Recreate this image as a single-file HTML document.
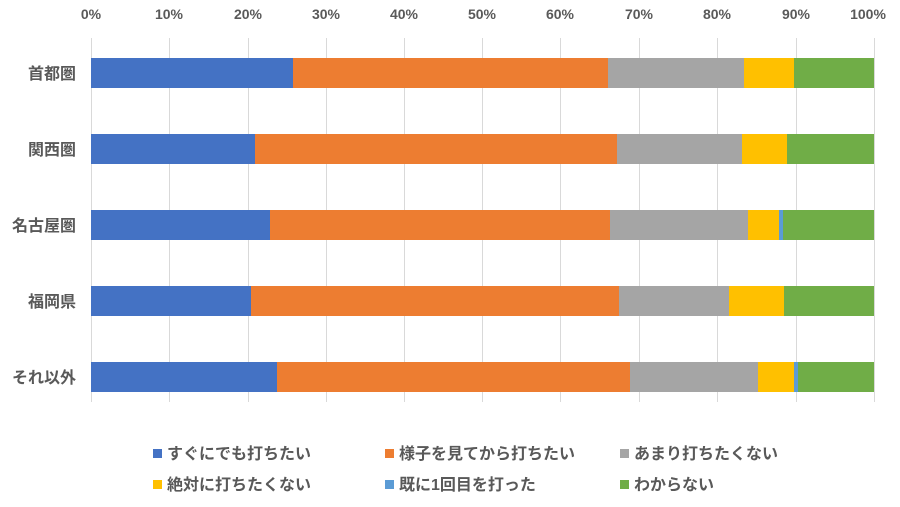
<!DOCTYPE html>
<html><head><meta charset="utf-8"><style>
body{margin:0;background:#fff;}
svg text{font-family:"Liberation Sans","Noto Sans CJK JP",sans-serif;fill:#595959;}
</style></head><body>
<svg width="900" height="502" xmlns="http://www.w3.org/2000/svg">
<g stroke="#d9d9d9" stroke-width="1">
<line x1="91.5" y1="38" x2="91.5" y2="402"/><line x1="169.5" y1="38" x2="169.5" y2="402"/><line x1="248.5" y1="38" x2="248.5" y2="402"/><line x1="326.5" y1="38" x2="326.5" y2="402"/><line x1="404.5" y1="38" x2="404.5" y2="402"/><line x1="482.5" y1="38" x2="482.5" y2="402"/><line x1="560.5" y1="38" x2="560.5" y2="402"/><line x1="639.5" y1="38" x2="639.5" y2="402"/><line x1="717.5" y1="38" x2="717.5" y2="402"/><line x1="796.5" y1="38" x2="796.5" y2="402"/><line x1="874.5" y1="38" x2="874.5" y2="402"/>
</g>
<g font-size="14" text-anchor="middle" font-weight="bold">
<text x="91" y="19">0%</text><text x="169" y="19">10%</text><text x="248" y="19">20%</text><text x="326" y="19">30%</text><text x="404" y="19">40%</text><text x="482" y="19">50%</text><text x="560" y="19">60%</text><text x="639" y="19">70%</text><text x="717" y="19">80%</text><text x="796" y="19">90%</text><text x="868" y="19">100%</text>
</g>
<g>
<rect x="91" y="58" width="202" height="30" fill="#4472c4"/><rect x="293" y="58" width="315" height="30" fill="#ed7d31"/><rect x="608" y="58" width="136" height="30" fill="#a5a5a5"/><rect x="744" y="58" width="50" height="30" fill="#ffc000"/><rect x="794" y="58" width="80" height="30" fill="#70ad47"/>
<rect x="91" y="134" width="164" height="30" fill="#4472c4"/><rect x="255" y="134" width="362" height="30" fill="#ed7d31"/><rect x="617" y="134" width="125" height="30" fill="#a5a5a5"/><rect x="742" y="134" width="45" height="30" fill="#ffc000"/><rect x="787" y="134" width="87" height="30" fill="#70ad47"/>
<rect x="91" y="210" width="179" height="30" fill="#4472c4"/><rect x="270" y="210" width="340" height="30" fill="#ed7d31"/><rect x="610" y="210" width="138" height="30" fill="#a5a5a5"/><rect x="748" y="210" width="31" height="30" fill="#ffc000"/><rect x="779" y="210" width="4" height="30" fill="#5b9bd5"/><rect x="783" y="210" width="91" height="30" fill="#70ad47"/>
<rect x="91" y="286" width="160" height="30" fill="#4472c4"/><rect x="251" y="286" width="368" height="30" fill="#ed7d31"/><rect x="619" y="286" width="110" height="30" fill="#a5a5a5"/><rect x="729" y="286" width="55" height="30" fill="#ffc000"/><rect x="784" y="286" width="90" height="30" fill="#70ad47"/>
<rect x="91" y="362" width="186" height="30" fill="#4472c4"/><rect x="277" y="362" width="353" height="30" fill="#ed7d31"/><rect x="630" y="362" width="128" height="30" fill="#a5a5a5"/><rect x="758" y="362" width="36" height="30" fill="#ffc000"/><rect x="794" y="362" width="4" height="30" fill="#5b9bd5"/><rect x="798" y="362" width="76" height="30" fill="#70ad47"/>
</g>
<g font-size="16" text-anchor="end" font-weight="bold">
<text x="76" y="79">首都圏</text><text x="76" y="155">関西圏</text><text x="76" y="231">名古屋圏</text><text x="76" y="307">福岡県</text><text x="76" y="383">それ以外</text>
</g>
<g font-size="16" font-weight="bold">
<rect x="153" y="449" width="9" height="9" fill="#4472c4"/><text x="167" y="459">すぐにでも打ちたい</text>
<rect x="385" y="449" width="9" height="9" fill="#ed7d31"/><text x="399" y="459">様子を見てから打ちたい</text>
<rect x="620" y="449" width="9" height="9" fill="#a5a5a5"/><text x="634" y="459">あまり打ちたくない</text>
<rect x="153" y="480" width="9" height="9" fill="#ffc000"/><text x="167" y="490">絶対に打ちたくない</text>
<rect x="385" y="480" width="9" height="9" fill="#5b9bd5"/><text x="399" y="490">既に1回目を打った</text>
<rect x="620" y="480" width="9" height="9" fill="#70ad47"/><text x="634" y="490">わからない</text>
</g>
</svg>
</body></html>
